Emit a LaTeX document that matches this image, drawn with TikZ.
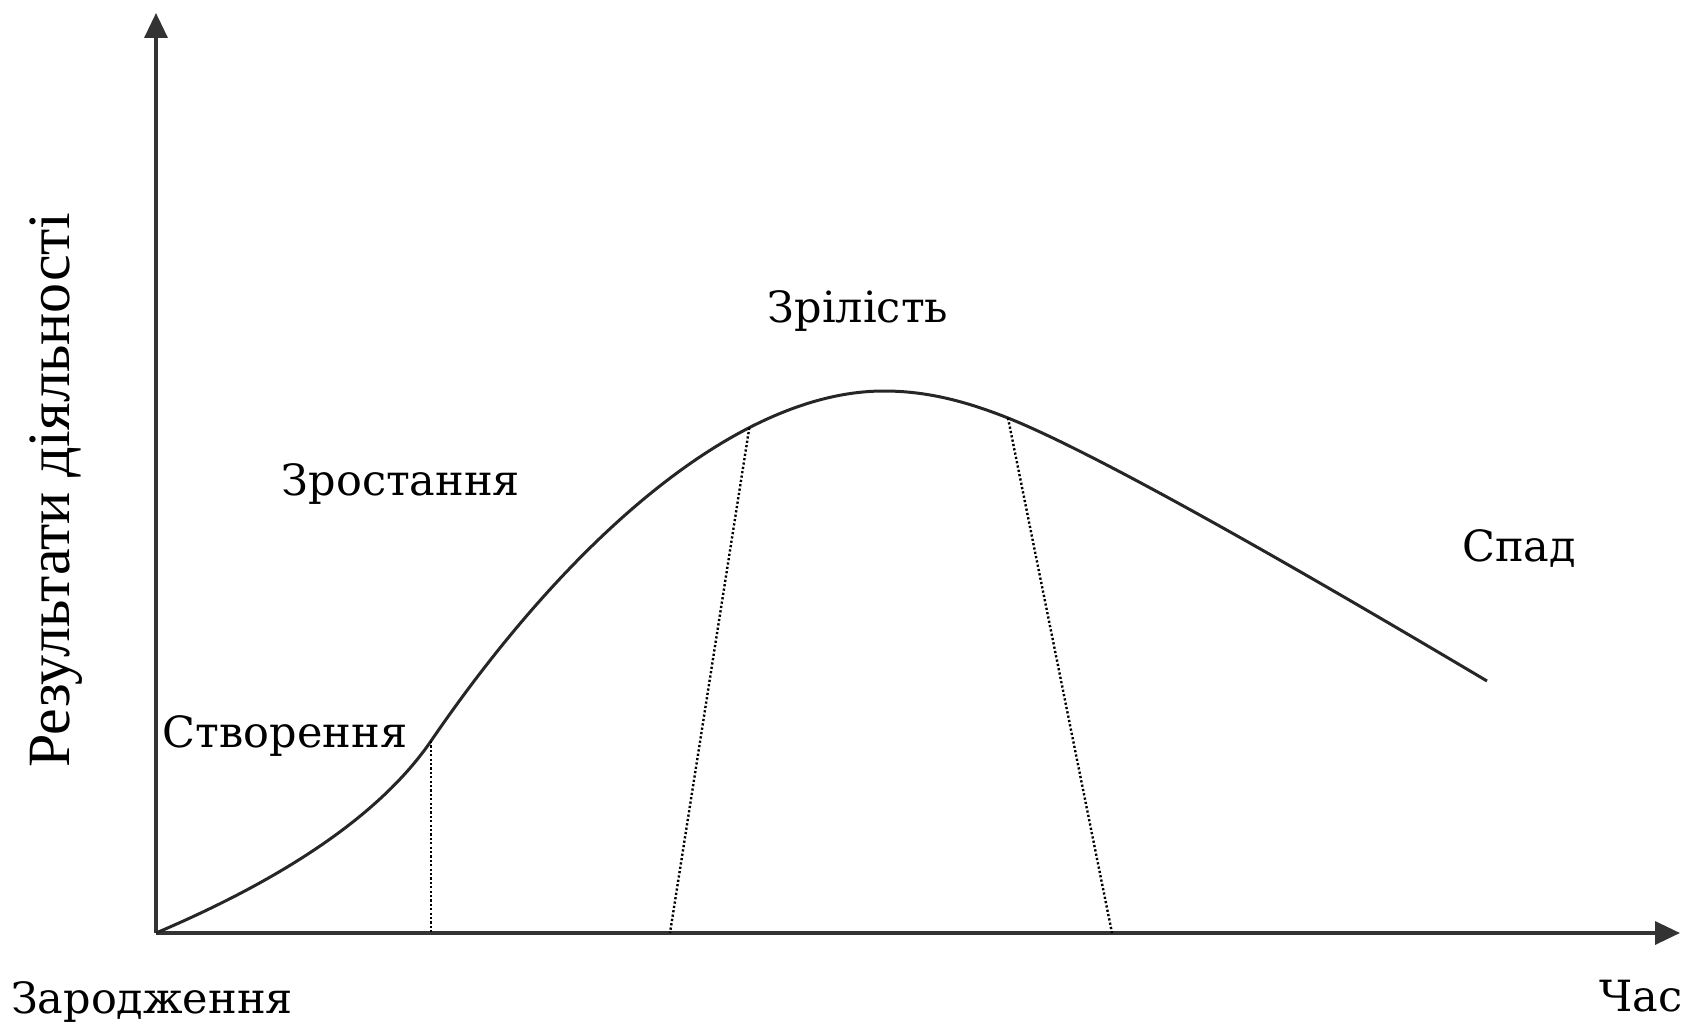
\documentclass[tikz,border=0pt]{standalone}
\usepackage{fontspec}
\setmainfont{DejaVu Serif}
\newfontfamily\timesfont{Liberation Serif}
\usetikzlibrary{arrows.meta}

\begin{document}
\begin{tikzpicture}[x=1pt, y=-1pt,
    every node/.style={font=\fontsize{43}{50}\selectfont, inner sep=0pt},
    axis/.style={line width=3.5pt, black!80, -{Triangle[length=25pt, width=23pt]}},
    lifecurve/.style={line width=3pt, black!85},
    guide/.style={line width=2.4pt, black, dash pattern=on 2.2pt off 2.2pt}]
  \useasboundingbox (0,0) rectangle (1690,1027);
  % axes
  \coordinate (o) at (156,933);
  \coordinate (ytip) at (156,13);
  \coordinate (xtip) at (1680,933);
  \draw[axis] (o) -- (ytip);
  \draw[axis] (o) -- (xtip);
  % stage borders on the curve and on the axis
  \coordinate (c1) at (431,741);
  \coordinate (top) at (884,391);
  \coordinate (c3) at (1008,418);
  \coordinate (fin) at (1487,681);
  \coordinate (b1) at (431,933);
  \coordinate (b2) at (670,933);
  \coordinate (b3) at (1112,933);
  % life cycle curve
  \draw[lifecurve] (o) .. controls (250,893) and (370,830) .. (c1)
    .. controls (572,535) and (740,391) .. coordinate[pos=0.7] (c2) (top)
    .. controls (930,391) and (970,403) .. (c3)
    .. controls (1100,455) and (1300,570) .. (fin);
  \draw[guide] (c1) -- (b1);
  \draw[guide] (c2) -- (b2);
  \draw[guide] (c3) -- (b3);
  % labels
  \node (birth) at (152,1002) {Зародження};
  \node (time) at (1641,996) {Час};
  \node (create) at (285,736) {Створення};
  \node (grow) at (401,484) {Зростання};
  \node (mature) at (858,311) {Зрілість};
  \node (decline) at (1519,549) {Спад};
  \node[rotate=90, font=\timesfont\fontsize{60}{66}\selectfont] (result) at (56,490) {Результати діяльності};
\end{tikzpicture}
\end{document}
